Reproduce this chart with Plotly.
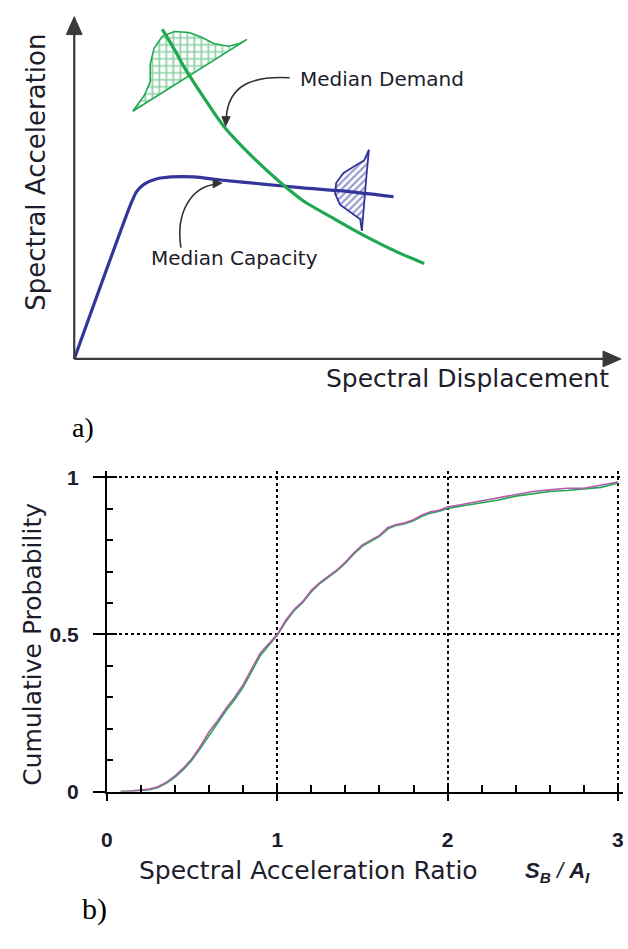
import plotly.graph_objects as go

W, H = 628, 949

# ---------------- (a) schematic: capacity vs demand ----------------
cap_disp = [0.00, 1.03, 1.14, 1.28, 1.50, 1.77, 2.19, 2.68, 3.45, 4.18, 4.90, 5.84]
cap_acc = [0.00, 4.51, 4.89, 5.11, 5.26, 5.32, 5.32, 5.23, 5.11, 5.00, 4.91, 4.74]

dem_disp = [1.61, 1.83, 2.01, 2.37, 2.73, 3.27, 3.76, 4.18, 4.77, 5.39, 5.90, 6.40]
dem_acc = [9.63, 9.05, 8.53, 7.64, 6.81, 5.89, 5.17, 4.63, 4.08, 3.53, 3.13, 2.79]

# scatter of demand around the median (cross-hatched lobe)
dem_pdf_x = [1.07, 1.28, 1.39, 1.39, 1.46, 1.61, 1.83, 2.10, 2.33, 2.55, 2.82, 3.02, 3.16, 1.07]
dem_pdf_y = [7.24, 7.70, 8.10, 8.62, 9.08, 9.43, 9.57, 9.54, 9.40, 9.22, 9.14, 9.22, 9.34, 7.24]

# scatter of capacity around the median (hatched lobe)
cap_pdf_x = [5.39, 5.30, 5.12, 4.92, 4.79, 4.77, 4.86, 5.05, 5.23, 5.26, 5.30, 5.35, 5.39]
cap_pdf_y = [6.12, 5.80, 5.63, 5.43, 5.14, 4.83, 4.51, 4.28, 4.08, 3.74, 4.60, 5.46, 6.12]

# ---------------- (b) cumulative distribution of Sa ratio ----------------
ratio = [0.08, 0.15, 0.25, 0.30, 0.35, 0.40, 0.45, 0.50, 0.55, 0.60, 0.65, 0.70,
         0.75, 0.80, 0.85, 0.90, 0.95, 1.00, 1.05, 1.10, 1.15, 1.20, 1.25, 1.30,
         1.35, 1.40, 1.45, 1.50, 1.55, 1.60, 1.65, 1.70, 1.75, 1.80, 1.85, 1.90,
         1.95, 2.00, 2.10, 2.20, 2.30, 2.40, 2.50, 2.60, 2.70, 2.80, 2.90, 3.00]
cdf_a = [0.000, 0.002, 0.008, 0.015, 0.030, 0.050, 0.075, 0.105, 0.145, 0.190, 0.225, 0.265,
         0.300, 0.340, 0.390, 0.440, 0.470, 0.500, 0.545, 0.580, 0.605, 0.640, 0.665, 0.685,
         0.705, 0.730, 0.760, 0.785, 0.800, 0.815, 0.840, 0.850, 0.855, 0.865, 0.880, 0.890,
         0.895, 0.905, 0.915, 0.925, 0.935, 0.945, 0.955, 0.960, 0.965, 0.965, 0.975, 0.985]
cdf_b = [0.000, 0.001, 0.006, 0.013, 0.027, 0.046, 0.070, 0.100, 0.138, 0.180, 0.218, 0.258,
         0.292, 0.332, 0.382, 0.432, 0.465, 0.497, 0.540, 0.576, 0.602, 0.636, 0.662, 0.682,
         0.702, 0.727, 0.756, 0.781, 0.797, 0.812, 0.836, 0.847, 0.852, 0.862, 0.876, 0.886,
         0.892, 0.901, 0.910, 0.918, 0.928, 0.940, 0.948, 0.955, 0.958, 0.962, 0.968, 0.982]

x_ticks = [0, 1, 2, 3]
y_ticks = [0, 0.5, 1]
y_tick_text = ["0", "0.5", "1"]

BLUE = "#33359b"
GREEN = "#1fa84f"
HATCH_GREEN = "#16a047"
PURPLE = "#b25cab"
INK = "#1d1d2b"
LEADER = "#333333"
LABEL_FONT = "DejaVu Sans"

fig = go.Figure()

# --- top panel traces
fig.add_trace(go.Scatter(x=dem_pdf_x, y=dem_pdf_y, mode="lines", fill="toself",
                         line=dict(color=GREEN, width=1.6),
                         fillcolor="white",
                         fillpattern=dict(shape="+", fgcolor=HATCH_GREEN, bgcolor="white",
                                          size=7, solidity=0.42),
                         xaxis="x", yaxis="y", hoverinfo="skip", showlegend=False))
fig.add_trace(go.Scatter(x=cap_pdf_x, y=cap_pdf_y, mode="lines", fill="toself",
                         line=dict(color=BLUE, width=1.8),
                         fillcolor="white",
                         fillpattern=dict(shape="/", fgcolor=BLUE, bgcolor="white",
                                          size=5, solidity=0.45),
                         xaxis="x", yaxis="y", hoverinfo="skip", showlegend=False))
fig.add_trace(go.Scatter(x=cap_disp, y=cap_acc, mode="lines",
                         line=dict(color=BLUE, width=3.2, shape="spline", smoothing=0.6),
                         xaxis="x", yaxis="y", showlegend=False))
fig.add_trace(go.Scatter(x=dem_disp, y=dem_acc, mode="lines",
                         line=dict(color=GREEN, width=3.2, shape="spline", smoothing=0.8),
                         xaxis="x", yaxis="y", showlegend=False))

# --- bottom panel traces
fig.add_trace(go.Scatter(x=ratio, y=cdf_b, mode="lines",
                         line=dict(color=GREEN, width=1.6),
                         xaxis="x2", yaxis="y2", showlegend=False))
fig.add_trace(go.Scatter(x=ratio, y=cdf_a, mode="lines",
                         line=dict(color=PURPLE, width=1.6),
                         xaxis="x2", yaxis="y2", showlegend=False))
# carrier for the outward-tick overlay axes
fig.add_trace(go.Scatter(x=[None], y=[None], xaxis="x3", yaxis="y3",
                         showlegend=False, hoverinfo="skip"))

# schematic frame: 55.3 px per x unit from px 69, 34.8 px per y unit up from py 360
top_x_range = [-0.3, 10.1]
top_y_range = [-0.3, 10.1]
top_x_dom = [(69 + top_x_range[0] * 55.3) / W, (69 + top_x_range[1] * 55.3) / W]
top_y_dom = [1 - (360 - top_y_range[0] * 34.8) / H, 1 - (360 - top_y_range[1] * 34.8) / H]
bot_x_dom = [102 / W, 624 / W]
bot_y_dom = [1 - 800 / H, 1 - 474 / H]

axis_common = dict(showline=True, linecolor="black", linewidth=2, zeroline=False,
                   tickcolor="black", tickwidth=1.6,
                   tickfont=dict(family="Liberation Sans", size=21, color=INK, weight="bold"))

fig.update_layout(
    width=W, height=H,
    margin=dict(l=0, r=0, t=0, b=0),
    paper_bgcolor="white", plot_bgcolor="rgba(0,0,0,0)",
    xaxis=dict(domain=top_x_dom, range=top_x_range, visible=False, anchor="y"),
    yaxis=dict(domain=top_y_dom, range=top_y_range, visible=False, anchor="x"),
    xaxis2=dict(domain=bot_x_dom, range=[0, 3.03], anchor="y2",
                tickvals=x_ticks, showticklabels=False, ticks="inside", ticklen=7,
                showgrid=True, gridcolor="black", griddash="dot", gridwidth=1.5,
                minor=dict(dtick=0.2, tick0=0, ticks="inside", ticklen=7,
                           tickcolor="black", tickwidth=1.6, showgrid=False),
                **axis_common),
    yaxis2=dict(domain=bot_y_dom, range=[0, 1.02], anchor="x2",
                tickvals=y_ticks, showticklabels=False, ticks="inside", ticklen=10,
                showgrid=True, gridcolor="black", griddash="dot", gridwidth=1.5,
                minor=dict(dtick=0.1, tick0=0, ticks="inside", ticklen=6,
                           tickcolor="black", tickwidth=1.6, showgrid=False),
                **axis_common),
    xaxis3=dict(overlaying="x2", anchor="y2", range=[0, 3.03],
                tickvals=x_ticks, ticktext=[str(v) for v in x_ticks],
                ticks="outside", ticklen=7, showgrid=False, ticklabelstandoff=21,
                **axis_common),
    yaxis3=dict(overlaying="y2", anchor="x2", range=[0, 1.02],
                tickvals=y_ticks, ticktext=y_tick_text,
                ticks="outside", ticklen=12, showgrid=False, ticklabelstandoff=10,
                **axis_common),
)

# schematic axes: lines with filled arrowheads
AX_COL = "#3a3a3a"
fig.add_shape(type="line", xref="x", yref="y", x0=0, y0=0, x1=0, y1=9.55,
              line=dict(color=AX_COL, width=2.2))
fig.add_shape(type="line", xref="x", yref="y", x0=0, y0=0, x1=9.7, y1=0,
              line=dict(color=AX_COL, width=2.2))
fig.add_shape(type="path", xref="x", yref="y", path="M 0,10 L -0.145,9.48 L 0.145,9.48 Z",
              fillcolor=AX_COL, line=dict(color=AX_COL, width=1))
fig.add_shape(type="path", xref="x", yref="y", path="M 10,0 L 9.67,0.23 L 9.67,-0.23 Z",
              fillcolor=AX_COL, line=dict(color=AX_COL, width=1))

# curved leaders for the median labels
fig.add_shape(type="path", xref="x", yref="y",
              path="M 3.94,8.22 C 3.25,8.28 2.82,8.0 2.78,7.05",
              line=dict(color=LEADER, width=1.6))
fig.add_shape(type="path", xref="x", yref="y", path="M 2.77,6.81 L 2.70,7.08 L 2.85,7.08 Z",
              fillcolor=LEADER, line=dict(color=LEADER, width=1))
fig.add_shape(type="path", xref="x", yref="y",
              path="M 1.95,3.25 C 1.85,4.3 2.15,5.0 2.55,5.10",
              line=dict(color=LEADER, width=1.6))
fig.add_shape(type="path", xref="x", yref="y", path="M 2.70,5.14 L 2.54,5.24 L 2.54,5.00 Z",
              fillcolor=LEADER, line=dict(color=LEADER, width=1))

fig.add_annotation(x=5.62, y=8.19, xref="x", yref="y", text="Median Demand",
                   showarrow=False, xanchor="center", yanchor="middle",
                   font=dict(family=LABEL_FONT, size=20, color=INK))
fig.add_annotation(x=2.93, y=2.96, xref="x", yref="y", text="Median Capacity",
                   showarrow=False, xanchor="center", yanchor="middle",
                   font=dict(family=LABEL_FONT, size=20, color=INK))

# axis titles and panel tags
fig.add_annotation(x=30 / W, y=1 - 170 / H, xref="paper", yref="paper",
                   text="Spectral Acceleration", textangle=-90, showarrow=False,
                   xanchor="center", yanchor="middle",
                   font=dict(family=LABEL_FONT, size=26, color=INK))
fig.add_annotation(x=467 / W, y=1 - 380 / H, xref="paper", yref="paper",
                   text="Spectral Displacement", showarrow=False,
                   xanchor="center", yanchor="middle",
                   font=dict(family=LABEL_FONT, size=25, color=INK))
fig.add_annotation(x=78 / W, y=1 - 430 / H, xref="paper", yref="paper",
                   text="a)", showarrow=False, xanchor="center", yanchor="middle",
                   font=dict(family="Liberation Serif", size=28, color="black"))

fig.add_annotation(x=26 / W, y=1 - 650 / H, xref="paper", yref="paper",
                   text="Cumulative Probability", textangle=-90, showarrow=False,
                   xanchor="center", yanchor="middle",
                   font=dict(family=LABEL_FONT, size=25, color=INK))
fig.add_annotation(x=306 / W, y=1 - 880 / H, xref="paper", yref="paper",
                   text="Spectral Acceleration Ratio", showarrow=False,
                   xanchor="center", yanchor="middle",
                   font=dict(family=LABEL_FONT, size=25, color=INK))
fig.add_annotation(x=558 / W, y=1 - 882 / H, xref="paper", yref="paper",
                   text="<b><i>S<sub>B</sub></i></b><i> / </i><b><i>A<sub>I</sub></i></b>",
                   showarrow=False, xanchor="center", yanchor="middle",
                   font=dict(family="Liberation Sans", size=22, color=INK))
fig.add_annotation(x=90 / W, y=1 - 920 / H, xref="paper", yref="paper",
                   text="b)", showarrow=False, xanchor="center", yanchor="middle",
                   font=dict(family="Liberation Serif", size=30, color="black"))

fig.write_html("out.html")
